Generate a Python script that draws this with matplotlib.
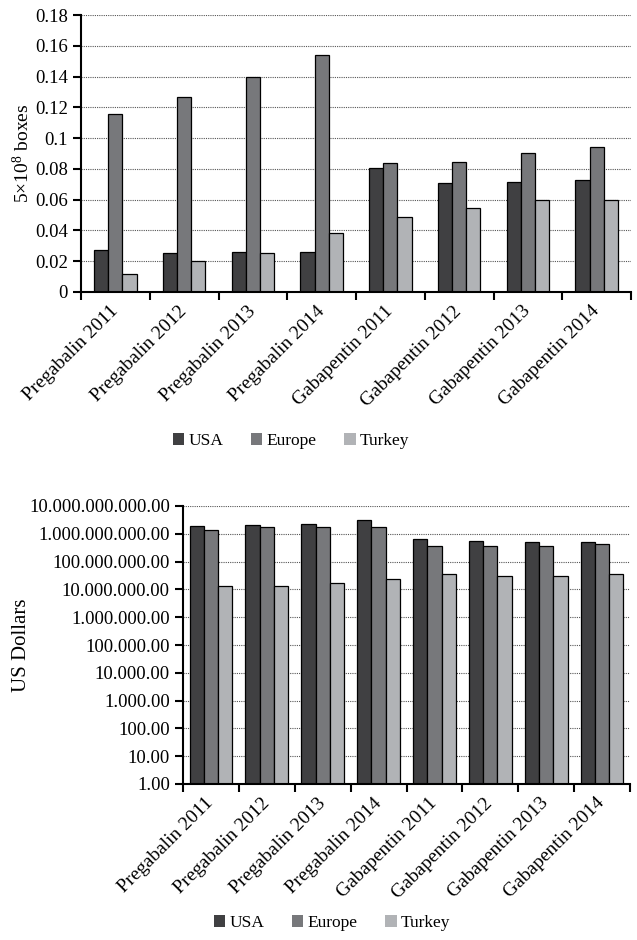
import numpy as np
import matplotlib
matplotlib.use('Agg')
import matplotlib.pyplot as plt
import matplotlib.transforms as mtransforms
from matplotlib.ticker import FuncFormatter, FixedLocator
from matplotlib.patches import Patch

plt.rcParams['font.family'] = ['Liberation Serif', 'DejaVu Serif']
plt.rcParams['mathtext.default'] = 'regular'

categories = ['Pregabalin 2011', 'Pregabalin 2012', 'Pregabalin 2013', 'Pregabalin 2014',
              'Gabapentin 2011', 'Gabapentin 2012', 'Gabapentin 2013', 'Gabapentin 2014']
series = ['USA', 'Europe', 'Turkey']
colors = ['#404042', '#77787b', '#b1b3b6']

# consumption, 5x10^8 boxes
boxes_usa = [0.027, 0.0254, 0.0263, 0.0263, 0.0807, 0.0707, 0.0716, 0.0731]
boxes_europe = [0.1158, 0.1265, 0.1395, 0.154, 0.0839, 0.0848, 0.0904, 0.0941]
boxes_turkey = [0.012, 0.0204, 0.0256, 0.0384, 0.049, 0.0549, 0.0595, 0.0595]

# sales, US dollars
usd_usa = [1.9e9, 2.1e9, 2.2e9, 3.1e9, 6.3e8, 5.6e8, 5.0e8, 5.0e8]
usd_europe = [1.4e9, 1.8e9, 1.7e9, 1.8e9, 3.6e8, 3.6e8, 3.6e8, 4.3e8]
usd_turkey = [1.3e7, 1.3e7, 1.66e7, 2.3e7, 3.6e7, 3.1e7, 3.1e7, 3.6e7]

fig = plt.figure(figsize=(6.37, 9.4), dpi=100)
ax1 = fig.add_axes([81/637, 648/940, 550/637, 277/940])
ax2 = fig.add_axes([183/637, 156/940, 447/637, 278/940])


def style_axes(ax):
    x = np.arange(len(categories))
    ax.set_xlim(-0.5, len(categories) - 0.5)
    ax.set_xticks(np.arange(-0.5, len(categories), 1))
    ax.set_xticklabels([])
    ax.set_xticks(x, minor=True)
    ax.set_xticklabels(categories, minor=True, rotation=45, ha='right', va='center',
                       rotation_mode='anchor', fontsize=14)
    # nudge labels so their upper end sits just right of the group centre
    shift = mtransforms.ScaledTranslation(14/100, 0, fig.dpi_scale_trans)
    for lab in ax.get_xticklabels(minor=True):
        lab.set_transform(lab.get_transform() + shift)
    ax.tick_params(axis='x', which='major', direction='out', length=6, width=1.5)
    ax.tick_params(axis='x', which='minor', length=0, pad=12)
    ax.tick_params(axis='y', direction='out', length=6, width=1.5, labelsize=13.5)
    ax.spines['top'].set_visible(False)
    ax.spines['right'].set_visible(False)
    ax.spines['left'].set_linewidth(1.5)
    ax.spines['bottom'].set_linewidth(1.5)
    ax.yaxis.grid(True, linestyle=(0, (1, 1)), color='#555555', linewidth=0.8)
    ax.set_axisbelow(True)
    return x


# top chart
x = style_axes(ax1)
w = 0.207
for i, (vals, c) in enumerate(zip([boxes_usa, boxes_europe, boxes_turkey], colors)):
    ax1.bar(x + (i - 1) * w, vals, w, color=c, edgecolor='black', linewidth=0.9)
ax1.set_ylim(0, 0.18)
ax1.set_yticks([0, 0.02, 0.04, 0.06, 0.08, 0.1, 0.12, 0.14, 0.16, 0.18])
ax1.set_yticklabels(['0', '0.02', '0.04', '0.06', '0.08', '0.1', '0.12', '0.14', '0.16', '0.18'])
ax1.set_ylabel('5×10$^{8}$ boxes', fontsize=14)
ax1.yaxis.set_label_coords(-0.087, 0.5)

# bottom chart
x = style_axes(ax2)
w = 0.255
for i, (vals, c) in enumerate(zip([usd_usa, usd_europe, usd_turkey], colors)):
    ax2.bar(x + (i - 1) * w, vals, w, color=c, edgecolor='black', linewidth=0.9)
ax2.set_yscale('log')
ax2.set_ylim(1, 1e10)
ax2.yaxis.set_major_locator(FixedLocator([10.0 ** k for k in range(11)]))
ax2.yaxis.set_minor_locator(FixedLocator([]))
ax2.yaxis.set_major_formatter(FuncFormatter(lambda v, p: f"{v:,.2f}".replace(',', '.')))
ax2.set_ylabel('US Dollars', fontsize=15)
ax2.yaxis.set_label_coords(-0.34, 0.5)

handles = [Patch(facecolor=c, edgecolor='none') for c in colors]
for lx, ly in [(291/637, 499/940), (332/637, 17/940)]:
    fig.legend(handles, series, loc='center', bbox_to_anchor=(lx, ly),
               ncol=3, frameon=False, fontsize=12.5, handlelength=0.65, handleheight=0.65,
               handletextpad=0.25, columnspacing=1.6)

fig.savefig('out.png', dpi=100)
